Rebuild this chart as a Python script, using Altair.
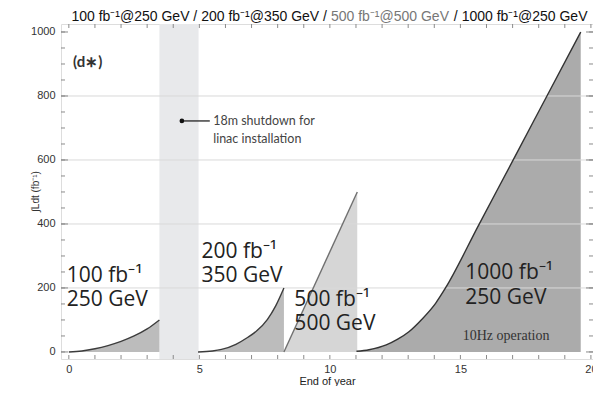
import altair as alt
import pandas as pd

# ---- data ----
seg1_year = [0, 0.5, 1.0, 1.5, 2.0, 2.5, 3.0, 3.47]
seg1_lumi = [0, 3, 10, 20, 33, 50, 72, 100]
seg2_year = [4.95, 5.5, 5.85, 6.4, 6.86, 7.2, 7.61, 7.93, 8.24]
seg2_lumi = [0, 3, 8, 24, 46, 66, 102, 145, 200]
seg3_year = [8.24, 11.05]
seg3_lumi = [0, 500]
seg4_year = [11.02, 11.5, 12.16, 12.6, 13.04, 13.5, 14.05, 14.43, 15.69, 17.15, 18.34, 19.61]
seg4_lumi = [2, 7, 22, 40, 64, 100, 152, 200, 395, 620, 804, 1000]

shutdown_start = [3.47]
shutdown_end = [4.97]

x_major = [0, 5, 10, 15, 20]
x_minor = list(range(0, 21))
y_major = [0, 200, 400, 600, 800, 1000]
y_minor = list(range(0, 1001, 50))
grid_vals = [200, 400, 600, 800]

seg_names = ["s1", "s2", "s3", "s4"]
seg_fill = ["#bcbcbc", "#bcbcbc", "#d6d6d6", "#ababab"]
seg_stroke = ["#3c3c3c", "#3c3c3c", "#707070", "#333333"]

big_text = ["100 fb⁻¹", "250 GeV", "200 fb⁻¹", "350 GeV", "500 fb⁻¹", "500 GeV", "1000 fb⁻¹", "250 GeV"]
big_x = [-0.08, -0.08, 5.08, 5.08, 8.64, 8.64, 15.19, 15.19]
big_y = [237, 161, 311, 237, 162, 86, 247, 170]

title_left_text = ["100 fb⁻¹@250 GeV / 200 fb⁻¹@350 GeV /"]
title_left_x = [9.89]
title_mid_text = ["500 fb⁻¹@500 GeV"]
title_mid_x = [10.04]
title_right_text = ["/ 1000 fb⁻¹@250 GeV"]
title_right_x = [14.75]
title_y = [1047]

note_text = ["18m shutdown for", "linac installation"]
note_x = [5.53, 5.53]
note_y = [722, 666]
note_dot = [4.33, 722]
note_line_end = [5.40]

# ---- tables ----
rows = []
for name, xv, yv in zip(seg_names, [seg1_year, seg2_year, seg3_year, seg4_year],
                        [seg1_lumi, seg2_lumi, seg3_lumi, seg4_lumi]):
    for a, b in zip(xv, yv):
        rows.append({"x": a, "y": b, "seg": name})
curves = pd.DataFrame(rows)

W, H = 532, 335
xs = alt.Scale(domain=[-0.3, 20.08], nice=False, zero=False)
ys = alt.Scale(domain=[-22, 1025], nice=False, zero=False)

x_axis = alt.Axis(values=x_major, ticks=False, domain=False, grid=False, format="d",
                  labelFont="Liberation Sans", labelFontSize=11, labelColor="#333333",
                  labelPadding=4, labelFlush=False,
                  titleFont="Liberation Sans", titleFontSize=11, titleFontWeight="normal",
                  titleColor="#222222", titleX=266, titleY=22, titleBaseline="middle")
y_axis = alt.Axis(values=y_major, ticks=False, domain=False, grid=False, format="d",
                  labelFont="Liberation Sans", labelFontSize=11, labelColor="#333333",
                  labelPadding=6,
                  titleFont="Liberation Sans", titleFontSize=10, titleFontWeight="normal",
                  titleColor="#333333", titleX=-26, titleY=167, titleBaseline="middle")

X = lambda f="x": alt.X(f"{f}:Q", scale=xs, axis=x_axis, title="End of year")
Y = lambda f="y": alt.Y(f"{f}:Q", scale=ys, axis=y_axis, title="∫Ldt (fb⁻¹)")

band = alt.Chart(pd.DataFrame({"x": shutdown_start, "x2": shutdown_end})).mark_rect(
    color="#e8e9eb").encode(x=X(), x2="x2:Q", y=alt.value(0), y2=alt.value(H))

areas = alt.Chart(curves).mark_area(interpolate="monotone").encode(
    x=X(), y=Y(), y2=alt.datum(0),
    fill=alt.Fill("seg:N", scale=alt.Scale(domain=seg_names, range=seg_fill), legend=None))

grid = alt.Chart(pd.DataFrame({"y": grid_vals})).mark_rule(
    color="#d9d9d9", strokeWidth=1).encode(y=Y(), x=alt.value(0), x2=alt.value(W))

lines = alt.Chart(curves).mark_line(interpolate="monotone", strokeWidth=1.4).encode(
    x=X(), y=Y(),
    stroke=alt.Stroke("seg:N", scale=alt.Scale(domain=seg_names, range=seg_stroke), legend=None))

tick_col = "#8a8a8a"
xt = pd.DataFrame({"x": x_minor})
xtick_b = alt.Chart(xt).mark_rule(color=tick_col).encode(x=X(), y=alt.value(H), y2=alt.value(H - 4))
xtick_t = alt.Chart(xt).mark_rule(color=tick_col).encode(x=X(), y=alt.value(0), y2=alt.value(4))
yt = pd.DataFrame({"y": y_minor})
ytick_l = alt.Chart(yt).mark_rule(color=tick_col).encode(y=Y(), x=alt.value(0), x2=alt.value(4))
ytick_r = alt.Chart(yt).mark_rule(color=tick_col).encode(y=Y(), x=alt.value(W), x2=alt.value(W - 4))
ytm = pd.DataFrame({"y": y_major})
ytick_lm = alt.Chart(ytm).mark_rule(color=tick_col).encode(y=Y(), x=alt.value(0), x2=alt.value(7))
ytick_rm = alt.Chart(ytm).mark_rule(color=tick_col).encode(y=Y(), x=alt.value(W), x2=alt.value(W - 7))

big = alt.Chart(pd.DataFrame({"x": big_x, "y": big_y, "t": big_text})).mark_text(
    align="left", baseline="middle", font="Open Sans", fontSize=21, color="#222222").encode(
    x=X(), y=Y(), text="t:N")

def title_piece(texts, xv, align, color):
    return alt.Chart(pd.DataFrame({"x": xv, "y": title_y, "t": texts})).mark_text(
        align=align, baseline="middle", font="Liberation Sans", fontSize=14, color=color).encode(
        x=X(), y=Y(), text="t:N")

title_a = title_piece(title_left_text, title_left_x, "right", "#111111")
title_b = title_piece(title_mid_text, title_mid_x, "left", "#777777")
title_c = title_piece(title_right_text, title_right_x, "left", "#111111")

note = alt.Chart(pd.DataFrame({"x": note_x, "y": note_y, "t": note_text})).mark_text(
    align="left", baseline="middle", font="Lato", fontSize=12.5, color="#444444").encode(
    x=X(), y=Y(), text="t:N")
note_rule = alt.Chart(pd.DataFrame({"x": [note_dot[0]], "x2": note_line_end, "y": [note_dot[1]]})).mark_rule(
    color="#222222", strokeWidth=1.3).encode(x=X(), x2="x2:Q", y=Y())
note_pt = alt.Chart(pd.DataFrame({"x": [note_dot[0]], "y": [note_dot[1]]})).mark_point(
    filled=True, size=22, color="#111111", opacity=1).encode(x=X(), y=Y())

panel = alt.Chart(pd.DataFrame({"x": [0.16], "y": [907], "t": ["(d∗)"]})).mark_text(
    align="left", baseline="middle", font="Lato", fontSize=15, fontWeight="bold", color="#333333").encode(
    x=X(), y=Y(), text="t:N")

hz = alt.Chart(pd.DataFrame({"x": [16.75], "y": [50], "t": ["10Hz operation"]})).mark_text(
    align="center", baseline="middle", font="Liberation Serif", fontSize=14, color="#333333").encode(
    x=X(), y=Y(), text="t:N")

chart = alt.layer(
    band, areas, grid, lines,
    xtick_b, xtick_t, ytick_l, ytick_r, ytick_lm, ytick_rm,
    big, title_a, title_b, title_c, note_rule, note_pt, note, panel, hz
).properties(
    width=W, height=H,
    padding={"left": 53, "top": 16, "right": 0, "bottom": 27},
    autosize=alt.AutoSizeParams(type="none"),
).configure_view(stroke="#9a9a9a", strokeWidth=1).configure(background="white")

chart.save("out.html", embed_options={"renderer": "svg", "actions": False})
